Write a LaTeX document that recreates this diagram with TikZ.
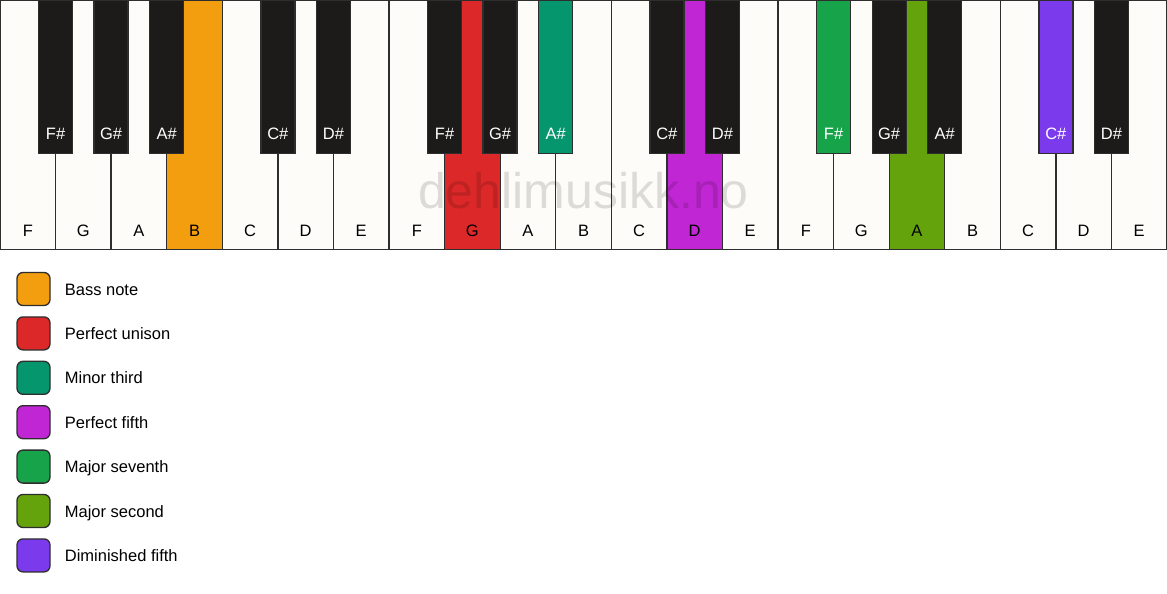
\documentclass[tikz,border=0pt]{standalone}
\usepackage{fontspec}
\setmainfont{Liberation Sans}
\usetikzlibrary{positioning}
\newcommand{\KeyFont}{\fontsize{16.5}{19}\selectfont}
\newcommand{\MarkFont}{\fontsize{50}{60}\selectfont}
\definecolor{KeyWhite}{HTML}{FDFCF9}
\definecolor{KeyBlack}{HTML}{1C1B1A}
\definecolor{KeyLine}{HTML}{2E2E2E}
\definecolor{BassColor}{HTML}{F39E0F}
\definecolor{UnisonColor}{HTML}{DC2828}
\definecolor{MinThirdColor}{HTML}{05966E}
\definecolor{FifthColor}{HTML}{C026D3}
\definecolor{MajSeventhColor}{HTML}{17A34A}
\definecolor{MajSecondColor}{HTML}{65A30D}
\definecolor{DimFifthColor}{HTML}{7C3AED}
\tikzstyle{WhiteKey}=[rectangle, draw=KeyLine, line width=1.3pt, fill=KeyWhite, anchor=north, minimum width=55.57pt, inner sep=0pt, text height=235.5pt, text depth=13.5pt, font=\KeyFont]
\tikzstyle{BlackKey}=[WhiteKey, fill=KeyBlack, text=white, minimum width=34pt, text height=138.5pt, text depth=14.5pt]
\tikzstyle{LegendBox}=[rectangle, rounded corners=6pt, draw=KeyLine, line width=1.3pt, minimum size=33pt, inner sep=0pt]
\tikzstyle{LegendText}=[anchor=west, inner sep=0pt, font=\KeyFont, text height=12pt, text depth=0pt]
\tikzstyle{Watermark}=[anchor=base, inner sep=0pt, font=\MarkFont, text=black, text opacity=0.13]

\begin{document}
\begin{tikzpicture}[x=1pt, y=-1pt]
\useasboundingbox[fill=white] (0,0) rectangle (1167,594);

% white keys
\node[WhiteKey](F1) at (27.79,0) {F};
\node[WhiteKey](G1) at (83.36,0) {G};
\node[WhiteKey](A1) at (138.93,0) {A};
\node[WhiteKey, fill=BassColor](B1) at (194.50,0) {B};
\node[WhiteKey](C1) at (250.07,0) {C};
\node[WhiteKey](D1) at (305.64,0) {D};
\node[WhiteKey](E1) at (361.21,0) {E};
\node[WhiteKey](F2) at (416.79,0) {F};
\node[WhiteKey, fill=UnisonColor](G2) at (472.36,0) {G};
\node[WhiteKey](A2) at (527.93,0) {A};
\node[WhiteKey](B2) at (583.50,0) {B};
\node[WhiteKey](C2) at (639.07,0) {C};
\node[WhiteKey, fill=FifthColor](D2) at (694.64,0) {D};
\node[WhiteKey](E2) at (750.21,0) {E};
\node[WhiteKey](F3) at (805.79,0) {F};
\node[WhiteKey](G3) at (861.36,0) {G};
\node[WhiteKey, fill=MajSecondColor](A3) at (916.93,0) {A};
\node[WhiteKey](B3) at (972.50,0) {B};
\node[WhiteKey](C3) at (1028.07,0) {C};
\node[WhiteKey](D3) at (1083.64,0) {D};
\node[WhiteKey](E3) at (1139.21,0) {E};

% black keys
\node[BlackKey](Fs1) at (55.57,0) {F\#};
\node[BlackKey](Gs1) at (111.14,0) {G\#};
\node[BlackKey](As1) at (166.71,0) {A\#};
\node[BlackKey](Cs1) at (277.86,0) {C\#};
\node[BlackKey](Ds1) at (333.43,0) {D\#};
\node[BlackKey](Fs2) at (444.57,0) {F\#};
\node[BlackKey](Gs2) at (500.14,0) {G\#};
\node[BlackKey, fill=MinThirdColor](As2) at (555.71,0) {A\#};
\node[BlackKey](Cs2) at (666.86,0) {C\#};
\node[BlackKey](Ds2) at (722.43,0) {D\#};
\node[BlackKey, fill=MajSeventhColor](Fs3) at (833.57,0) {F\#};
\node[BlackKey](Gs3) at (889.14,0) {G\#};
\node[BlackKey](As3) at (944.71,0) {A\#};
\node[BlackKey, fill=DimFifthColor](Cs3) at (1055.86,0) {C\#};
\node[BlackKey](Ds3) at (1111.43,0) {D\#};

\node[Watermark](Mark) at (583.5,208) {dehlimusikk.no};

% legend
\node[LegendBox, fill=BassColor](BassBox) at (33.5,289) {};
\node[LegendBox, fill=UnisonColor](UnisonBox) at (33.5,333.4) {};
\node[LegendBox, fill=MinThirdColor](MinThirdBox) at (33.5,377.8) {};
\node[LegendBox, fill=FifthColor](FifthBox) at (33.5,422.2) {};
\node[LegendBox, fill=MajSeventhColor](MajSeventhBox) at (33.5,466.6) {};
\node[LegendBox, fill=MajSecondColor](MajSecondBox) at (33.5,511) {};
\node[LegendBox, fill=DimFifthColor](DimFifthBox) at (33.5,555.4) {};

\node[LegendText, right=14pt of BassBox](BassText) {Bass note};
\node[LegendText, right=14pt of UnisonBox](UnisonText) {Perfect unison};
\node[LegendText, right=14pt of MinThirdBox](MinThirdText) {Minor third};
\node[LegendText, right=14pt of FifthBox](FifthText) {Perfect fifth};
\node[LegendText, right=14pt of MajSeventhBox](MajSeventhText) {Major seventh};
\node[LegendText, right=14pt of MajSecondBox](MajSecondText) {Major second};
\node[LegendText, right=14pt of DimFifthBox](DimFifthText) {Diminished fifth};
\end{tikzpicture}
\end{document}
